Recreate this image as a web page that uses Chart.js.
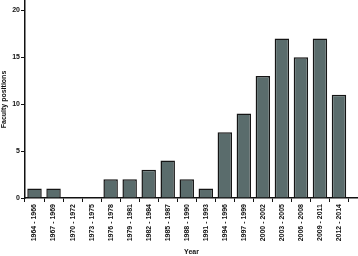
<!DOCTYPE html>
<html>
<head>
<meta charset="utf-8">
<script src="https://cdn.jsdelivr.net/npm/chart.js"></script>
<style>
  body { margin: 0; background: #fff; }
  #wrap { width: 358px; height: 256px; }
</style>
</head>
<body>
<div id="wrap"><canvas id="facultyChart" width="358" height="256"></canvas></div>
<script>
const periods = [
  "1964 - 1966", "1967 - 1969", "1970 - 1972", "1973 - 1975", "1976 - 1978",
  "1979 - 1981", "1982 - 1984", "1985 - 1987", "1988 - 1990", "1991 - 1993",
  "1994 - 1996", "1997 - 1999", "2000 - 2002", "2003 - 2005", "2006 - 2008",
  "2009 - 2011", "2012 - 2014"
];
const positions = [1, 1, 0, 0, 2, 2, 3, 4, 2, 1, 7, 9, 13, 17, 15, 17, 11];
const yTicks = [0, 5, 10, 15, 20];

document.addEventListener("DOMContentLoaded", () => {
  const ctx = document.getElementById("facultyChart").getContext("2d");
  const font = { family: "'Liberation Sans', Arial, sans-serif", size: 7, weight: "bold" };

  new Chart(ctx, {
    type: "bar",
    data: {
      datasets: [
        {
          label: "Faculty positions",
          data: positions.map((v, i) => ({ x: i, y: v })),
          backgroundColor: "#5a6c6c",
          borderColor: "#151515",
          borderWidth: 1.5,
          barPercentage: 0.76,
          categoryPercentage: 1,
        },
      ],
    },
    options: {
      responsive: false,
      animation: false,
      layout: { padding: 0 },
      plugins: {
        legend: { display: false },
        tooltip: { enabled: false },
      },
      scales: {
        x: {
          type: "linear",
          min: -0.5,
          max: 17,
          offset: false,
          afterBuildTicks: (axis) => {
            axis.ticks = axis.ticks.filter(
              (t) => Number.isInteger(t.value) && t.value >= 0 && t.value < periods.length
            );
          },
          afterFit: (axis) => { axis.height = 58; },
          ticks: {
            stepSize: 1,
            autoSkip: false,
            maxRotation: 90,
            minRotation: 90,
            padding: 2,
            color: "#111",
            font: font,
            callback: (v) => periods[v],
          },
          grid: { drawOnChartArea: false, tickLength: 4, tickColor: "#111", tickWidth: 1 },
          border: { color: "#111", width: 1.5 },
          title: {
            display: true,
            text: "Year",
            color: "#111",
            font: font,
            padding: { top: 0, bottom: 0 },
          },
        },
        y: {
          min: 0,
          max: 21,
          afterBuildTicks: (axis) => {
            axis.ticks = yTicks.map((v) => ({ value: v }));
          },
          afterFit: (axis) => { axis.width = 25; },
          ticks: { stepSize: 5, padding: 1, color: "#111", font: { ...font, lineHeight: 0 } },
          grid: { drawOnChartArea: false, tickLength: 4, tickColor: "#111", tickWidth: 1 },
          border: { color: "#111", width: 1.5 },
          title: {
            display: true,
            text: "Faculty positions",
            color: "#111",
            font: font,
            padding: { top: 0, bottom: 0 },
          },
        },
      },
    },
  });
});
</script>
</body>
</html>
